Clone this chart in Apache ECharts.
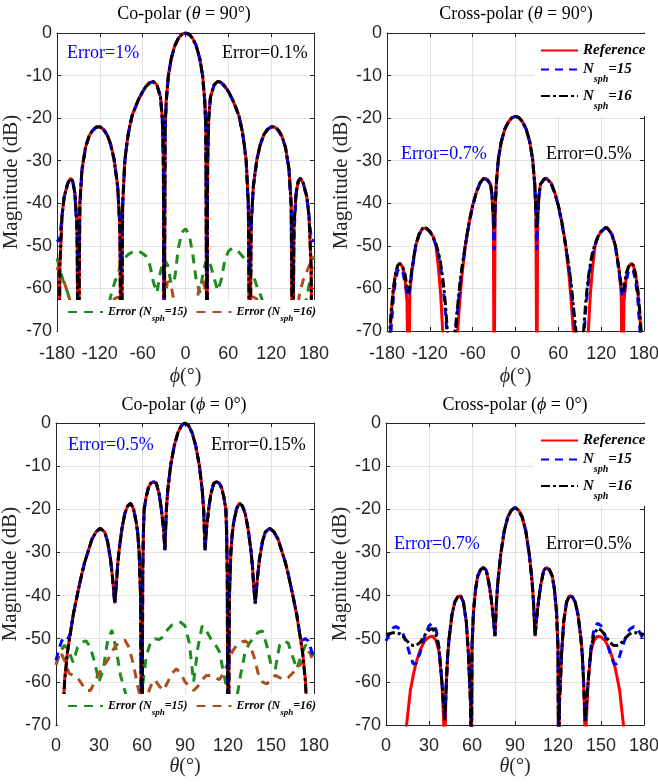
<!DOCTYPE html>
<html><head><meta charset="utf-8">
<script src="https://cdn.jsdelivr.net/npm/echarts/dist/echarts.min.js"></script>
<style>html,body{margin:0;padding:0;background:#fff}#c{width:658px;height:784px}</style>
</head><body><div id="c"></div>
<script>
// ---------- Top-left: Co-polar (theta = 90°) vs phi ----------
const phiTL = [-180,-177.5,-176,-173,-170,-165,-161,-158,-155,-152,-150,-148,-145,-140,-135,-130,-125,-120,-115,-110,-105,-100,-95,-92,-90,-88,-85,-82.5,-80,-75,-70,-65,-60,-55,-50,-45,-40,-35,-32.5,-31,-30,-28.5,-27,-24,-20,-15,-10,-5,
  0,5,10,15,20,24,27,28.5,30,31,32.5,35,40,45,50,55,60,65,70,75,80,82.5,85,88,90,92,95,100,105,110,115,120,125,130,135,140,145,148,150,152,155,158,161,165,170,173,176,177.5,180];
const refTL = [-80,-90,-55,-43,-38.5,-35.3,-34.1,-34.8,-37.5,-45,-90,-40,-32,-26.8,-24.2,-22.8,-22.1,-22.0,-22.6,-23.8,-26,-29.7,-36,-45,-90,-40,-30,-26.5,-23.5,-19.5,-17.3,-15.3,-13.7,-12.5,-11.6,-11.4,-12.2,-15,-20,-30,-90,-22,-16,-10,-6.0,-3.0,-1.25,-0.3,
  0,-0.3,-1.25,-3.0,-6.0,-10,-16,-22,-90,-30,-20,-15,-12.2,-11.4,-11.6,-12.5,-13.7,-15.3,-17.3,-19.5,-23.5,-26.5,-30,-40,-90,-45,-36,-29.7,-26,-23.8,-22.6,-22.0,-22.1,-22.8,-24.2,-26.8,-32,-40,-90,-45,-37.5,-34.8,-34.1,-35.3,-38.5,-43,-55,-90,-80];
const n15TL = [-48.5,-49,-48,-43,-38.6,-35.4,-34.2,-34.9,-37.6,-47,-60,-41,-32.2,-26.9,-24.3,-22.9,-22.2,-22.1,-22.7,-23.9,-26.1,-29.8,-36.2,-46,-56,-41,-30.2,-26.6,-23.6,-19.6,-17.4,-15.4,-13.8,-12.6,-11.7,-11.5,-12.3,-15.1,-20.2,-32,-75,-23,-16.2,-10.1,-6.1,-3.0,-1.25,-0.3,
  0,-0.3,-1.25,-3.0,-6.1,-10.1,-16.2,-23,-75,-32,-20.2,-15.1,-12.3,-11.5,-11.7,-12.6,-13.8,-15.4,-17.4,-19.6,-23.6,-26.6,-30.2,-41,-56,-46,-36.2,-29.8,-26.1,-23.9,-22.7,-22.1,-22.2,-22.9,-24.3,-26.9,-32.2,-41,-60,-47,-37.6,-34.9,-34.2,-35.4,-38.6,-43,-48,-49,-48.5];
const n16TL = [-76,-90,-55,-43,-38.5,-35.3,-34.1,-34.8,-37.5,-45,-90,-40,-32,-26.8,-24.2,-22.8,-22.1,-22.0,-22.6,-23.8,-26,-29.7,-36,-45,-90,-40,-30,-26.5,-23.5,-19.5,-17.3,-15.3,-13.7,-12.5,-11.6,-11.4,-12.2,-15,-20,-30,-90,-22,-16,-10,-6.0,-3.0,-1.25,-0.3,
  0,-0.3,-1.25,-3.0,-6.0,-10,-16,-22,-90,-30,-20,-15,-12.2,-11.4,-11.6,-12.5,-13.7,-15.3,-17.3,-19.5,-23.5,-26.5,-30,-40,-90,-45,-36,-29.7,-26,-23.8,-22.6,-22.0,-22.1,-22.8,-24.2,-26.8,-32,-40,-90,-45,-37.5,-34.8,-34.1,-35.3,-38.5,-43,-55,-90,-76];
const errPhi = [-180,-175,-170,-165,-160,-155,-150,-145,-140,-135,-130,-125,-120,-115,-110,-105,-100,-95,-90,-85,-80,-75,-70,-65,-60,-55,-50,-45,-40,-35,-30,-25,-20,-15,-10,-5,
  0,5,10,15,20,25,30,35,40,45,50,55,60,65,70,75,80,85,90,95,100,105,110,115,120,125,130,135,140,145,150,155,160,165,170,175,180];
const err15TL = [-52.9,-56,-59,-61,-64,-67,-69,-68,-67,-66,-66,-66,-67,-68,-66,-62,-59,-56.5,-54.5,-52.8,-52,-51.5,-51.2,-51.3,-51.8,-52.5,-54.5,-58.5,-61,-56,-53.2,-54.5,-59,-57.5,-50.5,-46.8,
  -46,-47.2,-51.8,-58,-61,-56,-53,-54.5,-57.5,-60.5,-58,-53.5,-51.3,-50.6,-50.8,-51.5,-52.5,-53.5,-55,-57,-59.5,-61.5,-64,-66,-67,-68,-67,-66,-66,-67,-68,-68,-67,-65,-62,-57.5,-52.5];
const err16TL = [-55,-57,-58.5,-61,-64,-67,-68,-68,-68,-68,-68,-68,-68,-68,-68,-65,-62.5,-62,-62.5,-64,-66,-68,-68,-68,-68,-68,-68,-68,-68,-67,-63,-58.3,-59.5,-64,-68,-69,
  -69,-69,-68,-64,-59,-58.3,-62,-66,-68,-68,-68,-68,-68,-68,-68,-68,-66,-63,-62,-62,-62.5,-63.5,-66,-68,-68,-68,-68,-68,-68,-68,-68,-67,-61,-58,-56,-54,-52.5];

// ---------- Top-right: Cross-polar (theta = 90°) vs phi ----------
const phiTR = [-180,-178,-176,-174,-171,-168,-165,-162,-158,-155,-152,-150,-148,-145,-140,-135,-130,-128,-125,-120,-115,-111.5,-108,-105,-102,-100,-98,-95,-90,-86,-84,-81,-78,-75,-70,-65,-60,-55,-50,-45,-43,-40,-35,-33,-31,-30,-28.5,-27,-24,-20,-15,-10,-5,
  0,5,10,15,20,24,27,28.5,30,31,33,35,40,43,45,50,55,60,65,70,75,78,81,84,86,90,95,98,100,102,105,108,111.5,115,120,125,128,130,135,140,145,148,150,152,155,158,162,165,168,171,174,176,178,180];
const refTR = [-90,-80,-72,-66,-60,-56.5,-54.6,-54.1,-55,-57.5,-63,-90,-61,-55.5,-50,-47.2,-45.9,-45.7,-45.8,-46.6,-48,-50,-55,-61,-70,-75,-80,-88,-95,-85,-78,-70,-63,-57,-49.5,-44.5,-40.5,-37.5,-35.3,-34.2,-34.1,-34.3,-35.5,-38,-45,-90,-41.6,-35.6,-29.6,-25.6,-22.6,-20.9,-19.9,
  -19.6,-19.9,-20.9,-22.6,-25.6,-29.6,-35.6,-41.6,-90,-45,-38,-35.5,-34.3,-34.1,-34.2,-35.3,-37.5,-40.5,-44.5,-49.5,-57,-63,-70,-78,-85,-95,-88,-80,-75,-70,-61,-55,-50,-48,-46.6,-45.8,-45.7,-45.9,-47.2,-50,-55.5,-61,-90,-63,-57.5,-55,-54.1,-54.6,-56.5,-60,-66,-72,-80,-90];
const n15TR = [-90,-82,-75,-69,-62,-58,-55.8,-55.3,-56,-58.5,-61,-62,-60,-56,-50.3,-47.4,-46,-45.8,-45.9,-46.7,-48.2,-49.8,-52,-54.8,-58.5,-62,-66,-73,-80,-74,-71,-65,-60,-55.5,-49.8,-44.7,-40.6,-37.6,-35.4,-34.3,-34.2,-34.4,-35.6,-38,-44,-51,-42.5,-35.8,-29.6,-25.6,-22.6,-20.9,-19.9,
  -19.6,-19.9,-20.9,-22.6,-25.6,-29.6,-35.8,-42.5,-51,-44,-38,-35.6,-34.4,-34.2,-34.3,-35.4,-37.6,-40.6,-44.7,-49.8,-55.5,-60,-65,-71,-74,-80,-73,-66,-62,-58.5,-54.8,-52,-49.8,-48.2,-46.7,-45.9,-45.8,-46,-47.4,-50.3,-56,-60,-62,-61,-58.5,-56,-55.3,-55.8,-58,-62,-69,-75,-82,-90];
const n16TR = [-85,-76,-70,-65,-60,-56.5,-54.6,-54.1,-55,-56.5,-59.5,-61,-59,-55.5,-50,-47.2,-45.9,-45.7,-45.8,-46.6,-48,-49.5,-51.5,-54,-57.5,-60.5,-64,-71,-78,-72,-69,-64,-59,-55,-49.5,-44.5,-40.5,-37.5,-35.3,-34.2,-34.1,-34.3,-35.5,-37.8,-42,-46,-41,-35.6,-29.6,-25.6,-22.6,-20.9,-19.9,
  -19.6,-19.9,-20.9,-22.6,-25.6,-29.6,-35.6,-41,-46,-42,-37.8,-35.5,-34.3,-34.1,-34.2,-35.3,-37.5,-40.5,-44.5,-49.5,-55,-59,-64,-69,-72,-78,-71,-64,-60.5,-57.5,-54,-51.5,-49.5,-48,-46.6,-45.8,-45.7,-45.9,-47.2,-50,-55.5,-59,-61,-59.5,-56.5,-55,-54.1,-54.6,-56.5,-60,-65,-70,-76,-85];

// ---------- Bottom-left: Co-polar (phi = 0°) vs theta ----------
const thetaBL = [0,2,4,5,6,8,10,12,15,18,20,22,25,28,31,34,36,38,39.5,41,42,43,44,46,48,50,52,54,56,57,58,59,60,60.5,61,61.5,63,64.5,66,68,70,72,73.5,75,76,77,78,80,82.5,85,87.5,90,
  92.5,95,97.5,100,102,103,104,105,106.5,108,110,112,114,115.5,117,118.5,119,119.5,120,121,122,123,124,126,128,130,132,134,136,137,138,139,140.5,142,144,146,149,152,155,158,160,162,165,168,170,172,174,175,176,178,180];
const refBL = [-95,-85,-75,-66,-59.5,-53,-48.8,-44.5,-39.6,-35,-32.3,-30.2,-27,-25.2,-24.4,-25.3,-27.5,-31.5,-36,-41.8,-38,-33,-29.5,-24.5,-21,-19.2,-18.6,-19.8,-23,-25.5,-30,-40,-90,-35,-25,-20,-17,-15,-14,-13.6,-14,-16.5,-20,-24.5,-29.5,-20,-15.5,-9.8,-5.3,-2.3,-0.6,0,
  -0.6,-2.3,-5.3,-9.8,-15.5,-20,-29.5,-24.5,-20,-16.5,-14,-13.6,-14,-15,-17,-20,-25,-35,-90,-40,-30,-25.5,-23,-19.8,-18.6,-19.2,-21,-24.5,-29.5,-33,-38,-41.8,-36,-31.5,-27.5,-25.3,-24.4,-25.2,-27,-30.2,-32.3,-35,-39.6,-44.5,-48.8,-53,-59.5,-66,-75,-85,-95];
const n15BL = [-55,-52.5,-50.5,-50,-50,-50.3,-48.8,-44.5,-39.6,-35,-32.3,-30.2,-27,-25.2,-24.4,-25.3,-27.5,-31.5,-36,-41.8,-38,-33,-29.5,-24.5,-21,-19.2,-18.6,-19.8,-23,-25.5,-30,-40,-90,-35,-25,-20,-17,-15,-14,-13.6,-14,-16.5,-20,-24.5,-29.5,-20,-15.5,-9.8,-5.3,-2.3,-0.6,0,
  -0.6,-2.3,-5.3,-9.8,-15.5,-20,-29.5,-24.5,-20,-16.5,-14,-13.6,-14,-15,-17,-20,-25,-35,-90,-40,-30,-25.5,-23,-19.8,-18.6,-19.2,-21,-24.5,-29.5,-33,-38,-41.8,-36,-31.5,-27.5,-25.3,-24.4,-25.2,-27,-30.2,-32.3,-35,-39.6,-44.5,-48.8,-50.3,-50,-50,-50.5,-52.5,-55];
const n16BL = [-95,-85,-76,-68,-60,-53.2,-48.8,-44.5,-39.6,-35,-32.3,-30.2,-27,-25.2,-24.4,-25.3,-27.5,-31.5,-36,-41.8,-38,-33,-29.5,-24.5,-21,-19.2,-18.6,-19.8,-23,-25.5,-30,-40,-90,-35,-25,-20,-17,-15,-14,-13.6,-14,-16.5,-20,-24.5,-29.5,-20,-15.5,-9.8,-5.3,-2.3,-0.6,0,
  -0.6,-2.3,-5.3,-9.8,-15.5,-20,-29.5,-24.5,-20,-16.5,-14,-13.6,-14,-15,-17,-20,-25,-35,-90,-40,-30,-25.5,-23,-19.8,-18.6,-19.2,-21,-24.5,-29.5,-33,-38,-41.8,-36,-31.5,-27.5,-25.3,-24.4,-25.2,-27,-30.2,-32.3,-35,-39.6,-44.5,-48.8,-53.2,-60,-68,-76,-85,-95];
const errTheta = [0,3,6,9,12,15,18,21,24,27,30,33,36,39,42,45,48,51,54,57,60,63,66,69,72,75,78,81,84,87,90,93,96,99,102,105,108,111,114,117,120,123,126,129,132,135,138,141,144,147,150,153,156,159,162,165,168,171,174,177,180];
const err15BL = [-56,-53,-51.5,-53,-55.5,-52,-50.8,-50.5,-52,-55.5,-60,-57,-50.5,-48,-52.5,-58.5,-62,-66,-68,-66,-62,-54,-50.8,-50,-50.2,-49.5,-47.8,-46.8,-46.4,-46.2,-47,-51,-60,-52,-47,-48.2,-50,-51.2,-53,-58,-63,-66,-64,-58,-53,-51,-49.8,-48.5,-48.2,-51.5,-56,-57,-51.5,-50.5,-51,-54,-57,-54,-51.5,-52,-54];
const err16BL = [-56,-53,-55,-58,-58.5,-59,-60.5,-62,-62,-60,-58,-56.5,-55,-53,-51.5,-50.8,-50.3,-52,-56,-61,-65,-64,-61,-59.5,-61,-62,-60,-58,-57,-58,-60,-61,-62,-61,-59.5,-58.5,-58.5,-59,-59.5,-58,-55.5,-53,-51.5,-50.8,-50.5,-51.3,-54,-58,-60,-60.5,-59.5,-58.5,-59,-59.5,-59,-58,-57,-55.8,-54.5,-53,-56];

// ---------- Bottom-right: Cross-polar (phi = 0°) vs theta ----------
const thetaBR = [0,3,5,7,10,12,14,15,17,19,21,24,27,30,32.5,35,37,39,41,42,43,44,46,48,50,52,54,56,57.5,59,59.5,60,61,62.5,64,66,68,70,72,73.5,75,76,77,78,80,82.5,85,87.5,90,
  92.5,95,97.5,100,102,103,104,105,106.5,108,110,112,114,116,117.5,119,120,120.5,121,122.5,124,126,128,130,132,134,136,137,138,139,141,143,145,147.5,150,153,156,159,161,163,165,166,168,170,173,175,177,180];
const refBR = [-95,-90,-85,-80,-76,-73.5,-71,-68,-62,-58.5,-55.5,-52.5,-50.5,-49.6,-49.4,-50.5,-53,-60,-75,-61,-54,-50,-44.5,-41.5,-40.3,-40,-41.5,-46,-53.5,-65,-90,-52,-44,-38.5,-35.5,-34,-33.5,-34.2,-37.5,-41,-45.5,-49.4,-42,-37,-30.5,-25,-21.8,-20.2,-19.6,
  -20.2,-21.8,-25,-30.5,-37,-42,-49.4,-45.5,-41,-37.5,-34.2,-33.5,-34,-35.5,-38.5,-44,-52,-90,-65,-53.5,-46,-41.5,-40,-40.3,-41.5,-44.5,-50,-54,-61,-75,-60,-53,-50.5,-49.4,-49.6,-50.5,-52.5,-55.5,-58.5,-62,-68,-71,-73.5,-76,-80,-85,-90,-95];
const n15BR = [-50.5,-48.5,-47.5,-47.2,-47.8,-49,-50.8,-51.8,-54,-55.8,-55.8,-53,-49.5,-47,-46.4,-48,-52,-60,-69,-61,-54,-50,-44.5,-41.5,-40.3,-40,-41.5,-46,-53.5,-65,-90,-52,-44,-38.5,-35.5,-34,-33.5,-34.2,-37.5,-41,-45.5,-49.4,-42,-37,-30.5,-25,-21.8,-20.2,-19.6,
  -20.2,-21.8,-25,-30.5,-37,-42,-49.4,-45.5,-41,-37.5,-34.2,-33.5,-34,-35.5,-38.5,-44,-52,-90,-65,-53.5,-46,-41.5,-40,-40.3,-41.5,-44.5,-50,-54,-61,-69,-60,-52,-48,-46.4,-47,-49.5,-53,-55.8,-55.8,-54,-51.8,-50.8,-49,-47.8,-47.2,-47.5,-48.5,-50.5];
const n16BR = [-49,-48.8,-48.6,-48.6,-48.9,-49.5,-50.3,-50.7,-51.3,-51.6,-51.6,-50.8,-49.2,-48,-47.6,-49.2,-52.5,-60,-69,-61,-54,-50,-44.5,-41.5,-40.3,-40,-41.5,-46,-53.5,-65,-90,-52,-44,-38.5,-35.5,-34,-33.5,-34.2,-37.5,-41,-45.5,-49.4,-42,-37,-30.5,-25,-21.8,-20.2,-19.6,
  -20.2,-21.8,-25,-30.5,-37,-42,-49.4,-45.5,-41,-37.5,-34.2,-33.5,-34,-35.5,-38.5,-44,-52,-90,-65,-53.5,-46,-41.5,-40,-40.3,-41.5,-44.5,-50,-54,-61,-69,-60,-52.5,-49.2,-47.6,-48,-49.2,-50.8,-51.6,-51.6,-51.3,-50.7,-50.3,-49.5,-48.9,-48.6,-48.6,-48.8,-49];

// ---------- Text ----------
const titles = ['{n|Co-polar (}{i|θ}{n| = 90°)}','{n|Cross-polar (}{i|θ}{n| = 90°)}','{n|Co-polar (}{i|ϕ}{n| = 0°)}','{n|Cross-polar (}{i|ϕ}{n| = 0°)}'];
const xNames = ['{i|ϕ}{n|(°)}','{i|ϕ}{n|(°)}','{i|θ}{n|(°)}','{i|θ}{n|(°)}'];
const yName = 'Magnitude (dB)';
const errBlue = ['Error=1%','Error=0.7%','Error=0.5%','Error=0.7%'];
const errBlack = ['Error=0.1%','Error=0.5%','Error=0.15%','Error=0.5%'];
const legendLabels = {Reference:'{b|Reference}', N15:'{b|N}{s|sph}{b|=15}', N16:'{b|N}{s|sph}{b|=16}', E15:'{e|Error (N}{es|sph}{e|=15)}', E16:'{e|Error (N}{es|sph}{e|=16)}'};

// ---------- Build chart ----------
const AX = '#262626', GRIDC = '#e2e2e2';
const SERIF = '"Liberation Serif","DejaVu Serif",serif', SANS = '"Liberation Sans",Arial,sans-serif';
const grids = [
  {left:57, top:33, width:257, height:298},
  {left:387, top:33, width:257, height:298},
  {left:56, top:423, width:258, height:302},
  {left:386, top:423, width:258, height:302}
];
const xr = [[-180,180,60],[-180,180,60],[0,180,30],[0,180,30]];
const xNameGap = [36,36,32,32];
const xLabMargin = [14,14,12,12];
const nameRich = {i:{fontFamily:SERIF,fontStyle:'italic',fontSize:20,color:AX}, n:{fontFamily:SERIF,fontSize:20,color:AX}};
const xAxes = [], yAxes = [];
grids.forEach((g,i)=>{
  xAxes.push({gridIndex:i,type:'value',min:xr[i][0],max:xr[i][1],interval:xr[i][2],position:'bottom',
    axisLine:{show:true,onZero:false,lineStyle:{color:AX,width:1}},
    axisTick:{show:true,inside:true,length:4,lineStyle:{color:AX}},
    axisLabel:{show:true,color:AX,fontFamily:SANS,fontSize:18,margin:xLabMargin[i]},
    splitLine:{show:true,lineStyle:{color:GRIDC,width:1}},
    name:xNames[i],nameLocation:'middle',nameGap:xNameGap[i],nameTextStyle:{rich:nameRich}});
  yAxes.push({gridIndex:i,type:'value',min:-70,max:0,interval:10,position:'left',
    axisLine:{show:true,onZero:false,lineStyle:{color:AX,width:1}},
    axisTick:{show:true,inside:true,length:4,lineStyle:{color:AX}},
    axisLabel:{show:true,color:AX,fontFamily:SANS,fontSize:18,margin:5},
    splitLine:{show:true,lineStyle:{color:GRIDC,width:1}},
    name:yName,nameLocation:'middle',nameRotate:90,nameGap:28,nameTextStyle:{fontFamily:SERIF,fontSize:21,color:AX}});
});
grids.forEach((g,i)=>{
  xAxes.push({gridIndex:i,type:'value',min:xr[i][0],max:xr[i][1],interval:xr[i][2],position:'top',
    axisLine:{show:true,onZero:false,lineStyle:{color:AX,width:1}},
    axisTick:{show:true,inside:true,length:4,lineStyle:{color:AX}},
    axisLabel:{show:false},splitLine:{show:false}});
  yAxes.push({gridIndex:i,type:'value',min:-70,max:0,interval:10,position:'right',
    axisLine:{show:true,onZero:false,lineStyle:{color:AX,width:1}},
    axisTick:{show:true,inside:true,length:4,lineStyle:{color:AX}},
    axisLabel:{show:false},splitLine:{show:false}});
});

const ST = {
  Reference:{color:'#ff0000',width:3,type:'solid'},
  N15:{color:'#0000ff',width:3,type:[8,6]},
  N16:{color:'#000000',width:3,type:[9,3,3,3]},
  E15:{color:'#1e8c1e',width:3,type:[9,7]},
  E16:{color:'#a9501e',width:3,type:[9,7]}
};
function ser(name, xs, ys, gi){
  return {name, type:'line', xAxisIndex:gi, yAxisIndex:gi, data: xs.map((x,k)=>[x, ys[k]]),
    showSymbol:false, symbol:'none', clip:true, animation:false,
    lineStyle:ST[name], itemStyle:{color:ST[name].color}};
}
const series = [
  ser('E15', errPhi, err15TL, 0), ser('E16', errPhi, err16TL, 0),
  ser('Reference', phiTL, refTL, 0), ser('N15', phiTL, n15TL, 0), ser('N16', phiTL, n16TL, 0),
  ser('Reference', phiTR, refTR, 1), ser('N15', phiTR, n15TR, 1), ser('N16', phiTR, n16TR, 1),
  ser('E15', errTheta, err15BL, 2), ser('E16', errTheta, err16BL, 2),
  ser('Reference', thetaBL, refBL, 2), ser('N15', thetaBL, n15BL, 2), ser('N16', thetaBL, n16BL, 2),
  ser('Reference', thetaBR, refBR, 3), ser('N15', thetaBR, n15BR, 3), ser('N16', thetaBR, n16BR, 3)
];

const legRich = {
  b:{fontFamily:SERIF,fontStyle:'italic',fontWeight:'bold',fontSize:15,lineHeight:12,color:'#000'},
  s:{fontFamily:SERIF,fontStyle:'italic',fontWeight:'bold',fontSize:10,padding:[20,0,0,0],color:'#000'},
  e:{fontFamily:SERIF,fontStyle:'italic',fontWeight:'bold',fontSize:12,lineHeight:12,color:'#000'},
  es:{fontFamily:SERIF,fontStyle:'italic',fontWeight:'bold',fontSize:9,padding:[13,0,0,0],color:'#000'}
};
const fmt = n => legendLabels[n];
const hideSym = {opacity:0, color:'rgba(0,0,0,0)', borderWidth:0};
function errLegend(top){
  return {data:['E15','E16'],orient:'horizontal',left:58,top,itemWidth:35,itemHeight:10,itemGap:8,
    padding:[6,6,11,9],backgroundColor:'#ffffff',z:20,formatter:fmt,textStyle:{rich:legRich},selectedMode:false,itemStyle:hideSym};
}
function refLegend(top){
  return {data:['Reference','N15','N16'],orient:'vertical',left:534,top,itemWidth:37,itemHeight:10,itemGap:4,
    padding:[9,3,5,6],backgroundColor:'#ffffff',z:20,formatter:fmt,textStyle:{rich:legRich},selectedMode:false,itemStyle:hideSym};
}

const tRich = {n:{fontFamily:SERIF,fontSize:18,color:'#000'}, i:{fontFamily:SERIF,fontStyle:'italic',fontSize:18,color:'#000'}};
function gtext(x,y,text,opts){
  return Object.assign({type:'text',x,y,z:30,silent:true,
    style:Object.assign({text,align:'left',verticalAlign:'middle',textAlign:'left',textVerticalAlign:'middle'},opts)});
}
const titlePos = [[184,14],[516,14],[184,405],[515,405]];
const errPosB = [[67,53],[401,154],[68,445],[394,544]];
const errPosK = [[222,53],[546,154],[211,445],[546,544]];
const graphic = [];
titlePos.forEach((p,i)=>graphic.push(gtext(p[0],p[1],titles[i],{rich:tRich,align:'center',textAlign:'center'})));
errPosB.forEach((p,i)=>graphic.push(gtext(p[0],p[1],errBlue[i],{font:'18px '+SERIF,fill:'#0000ff'})));
errPosK.forEach((p,i)=>graphic.push(gtext(p[0],p[1],errBlack[i],{font:'18px '+SERIF,fill:'#000000'})));

const chart = echarts.init(document.getElementById('c'), null, {renderer:'canvas'});
chart.setOption({
  animation:false,
  backgroundColor:'#ffffff',
  grid: grids.map(g=>Object.assign({containLabel:false,outerBoundsMode:'none'},g)),
  xAxis:xAxes, yAxis:yAxes, series,
  legend:[errLegend(300), refLegend(34), errLegend(694), refLegend(424)],
  graphic
});
</script></body></html>
